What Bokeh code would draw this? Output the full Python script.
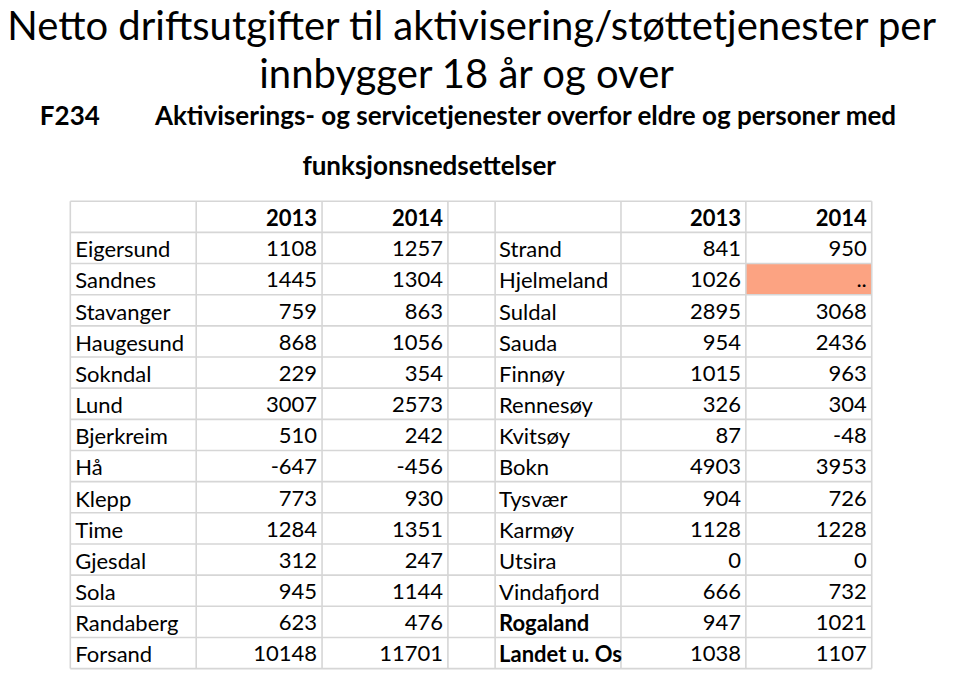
from bokeh.plotting import figure
from bokeh.models import ColumnDataSource, Range1d
from bokeh.core.properties import value
from bokeh.embed import file_html
from bokeh.resources import INLINE

# ---------------- data ----------------
title_line1 = "Netto driftsutgifter til aktivisering/støttetjenester per"
title_line2 = "innbygger  18 år og over"
code_label = "F234"
subtitle_line1 = "Aktiviserings- og servicetjenester overfor eldre og personer med"
subtitle_line2 = "funksjonsnedsettelser"

year_headers = ["2013", "2014"]

left_names = ["Eigersund", "Sandnes", "Stavanger", "Haugesund", "Sokndal", "Lund",
              "Bjerkreim", "Hå", "Klepp", "Time", "Gjesdal", "Sola", "Randaberg", "Forsand"]
left_2013 = [1108, 1445, 759, 868, 229, 3007, 510, -647, 773, 1284, 312, 945, 623, 10148]
left_2014 = [1257, 1304, 863, 1056, 354, 2573, 242, -456, 930, 1351, 247, 1144, 476, 11701]

right_names = ["Strand", "Hjelmeland", "Suldal", "Sauda", "Finnøy", "Rennesøy", "Kvitsøy",
               "Bokn", "Tysvær", "Karmøy", "Utsira", "Vindafjord", "Rogaland", "Landet u. Os"]
right_2013 = [841, 1026, 2895, 954, 1015, 326, 87, 4903, 904, 1128, 0, 666, 947, 1038]
right_2014 = [950, None, 3068, 2436, 963, 304, -48, 3953, 726, 1228, 0, 732, 1021, 1107]
right_bold = [False] * 12 + [True, True]

# ---------------- layout / style ----------------
FONT = "Lato"
col_edges = [71, 199, 327, 455, 503, 631, 758, 886]
row_top = 205.5
row_h = 31.9
n_rows = len(left_names) + 1
pad = 5
grid_color = "#d6d6d6"
missing_color = "#fca382"

W, H = 944, 672
p = figure(width=W, height=H, output_backend="svg", toolbar_location=None,
           x_range=Range1d(0, 960), y_range=Range1d(688, 0),
           min_border=0, outline_line_color=None)
p.axis.visible = False
p.grid.visible = False
p.background_fill_color = "white"
p.border_fill_color = "white"

# missing-value cell highlight
miss_rows = [i + 1 for i, v in enumerate(right_2014) if v is None]
p.quad(left=[col_edges[6]] * len(miss_rows), right=[col_edges[7]] * len(miss_rows),
       top=[row_top + r * row_h for r in miss_rows],
       bottom=[row_top + (r + 1) * row_h for r in miss_rows],
       fill_color=missing_color, line_color=None)

# grid lines
ys = [row_top + i * row_h for i in range(n_rows + 1)]
p.segment(x0=[col_edges[0]] * len(ys), x1=[col_edges[-1]] * len(ys), y0=ys, y1=ys,
          line_color=grid_color, line_width=1.6)
p.segment(x0=col_edges, x1=col_edges, y0=[ys[0]] * len(col_edges), y1=[ys[-1]] * len(col_edges),
          line_color=grid_color, line_width=1.6)

def mid(r):
    return row_top + r * row_h + 16.8

def fmt(v):
    return ".." if v is None else str(v)

TS = "22px"

# names (left-aligned)
nx, ny, nt, bx, by, bt = [], [], [], [], [], []
for i, n in enumerate(left_names):
    nx.append(col_edges[0] + pad); ny.append(mid(i + 1)); nt.append(n)
for i, n in enumerate(right_names):
    if right_bold[i]:
        bx.append(col_edges[4] + 4); by.append(mid(i + 1)); bt.append(n)
    else:
        nx.append(col_edges[4] + 4); ny.append(mid(i + 1)); nt.append(n)
p.text(x="x", y="y", text="t", source=ColumnDataSource(dict(x=nx, y=ny, t=nt)),
       text_font=value(FONT), text_font_size=TS, text_align="left",
       text_baseline="middle", text_color="black")
p.text(x="x", y="y", text="t", source=ColumnDataSource(dict(x=bx, y=by, t=bt)),
       text_font=value(FONT), text_font_size=TS, text_font_style="bold", text_align="left",
       text_baseline="middle", text_color="black")

# numbers (right-aligned)
vx, vy, vt = [], [], []
for i in range(len(left_names)):
    vx += [col_edges[2] - pad, col_edges[3] - pad]
    vy += [mid(i + 1)] * 2
    vt += [fmt(left_2013[i]), fmt(left_2014[i])]
for i in range(len(right_names)):
    vx += [col_edges[6] - pad, col_edges[7] - pad]
    vy += [mid(i + 1)] * 2
    vt += [fmt(right_2013[i]), fmt(right_2014[i])]
p.text(x="x", y="y", text="t", source=ColumnDataSource(dict(x=vx, y=vy, t=vt)),
       text_font=value(FONT), text_font_size=TS, text_align="right",
       text_baseline="middle", text_color="black")

# year headers
hx = [col_edges[2] - pad, col_edges[3] - pad, col_edges[6] - pad, col_edges[7] - pad]
ht = year_headers + year_headers
p.text(x="x", y="y", text="t",
       source=ColumnDataSource(dict(x=hx, y=[mid(0)] * 4, t=ht)),
       text_font=value(FONT), text_font_size=TS, text_font_style="bold", text_align="right",
       text_baseline="middle", text_color="black")

# titles
p.text(x=[480, 480], y=[25, 74], text=[title_line1, title_line2],
       text_font=value(FONT), text_font_size="40px", text_align="center",
       text_baseline="middle", text_color="black")
p.text(x=[40, 157, 307], y=[117, 117, 168], text=[code_label, subtitle_line1, subtitle_line2],
       text_font=value(FONT), text_font_size="26px", text_font_style="bold", text_align="left",
       text_baseline="middle", text_color="black")

open("out.html", "w").write(file_html(p, INLINE))
